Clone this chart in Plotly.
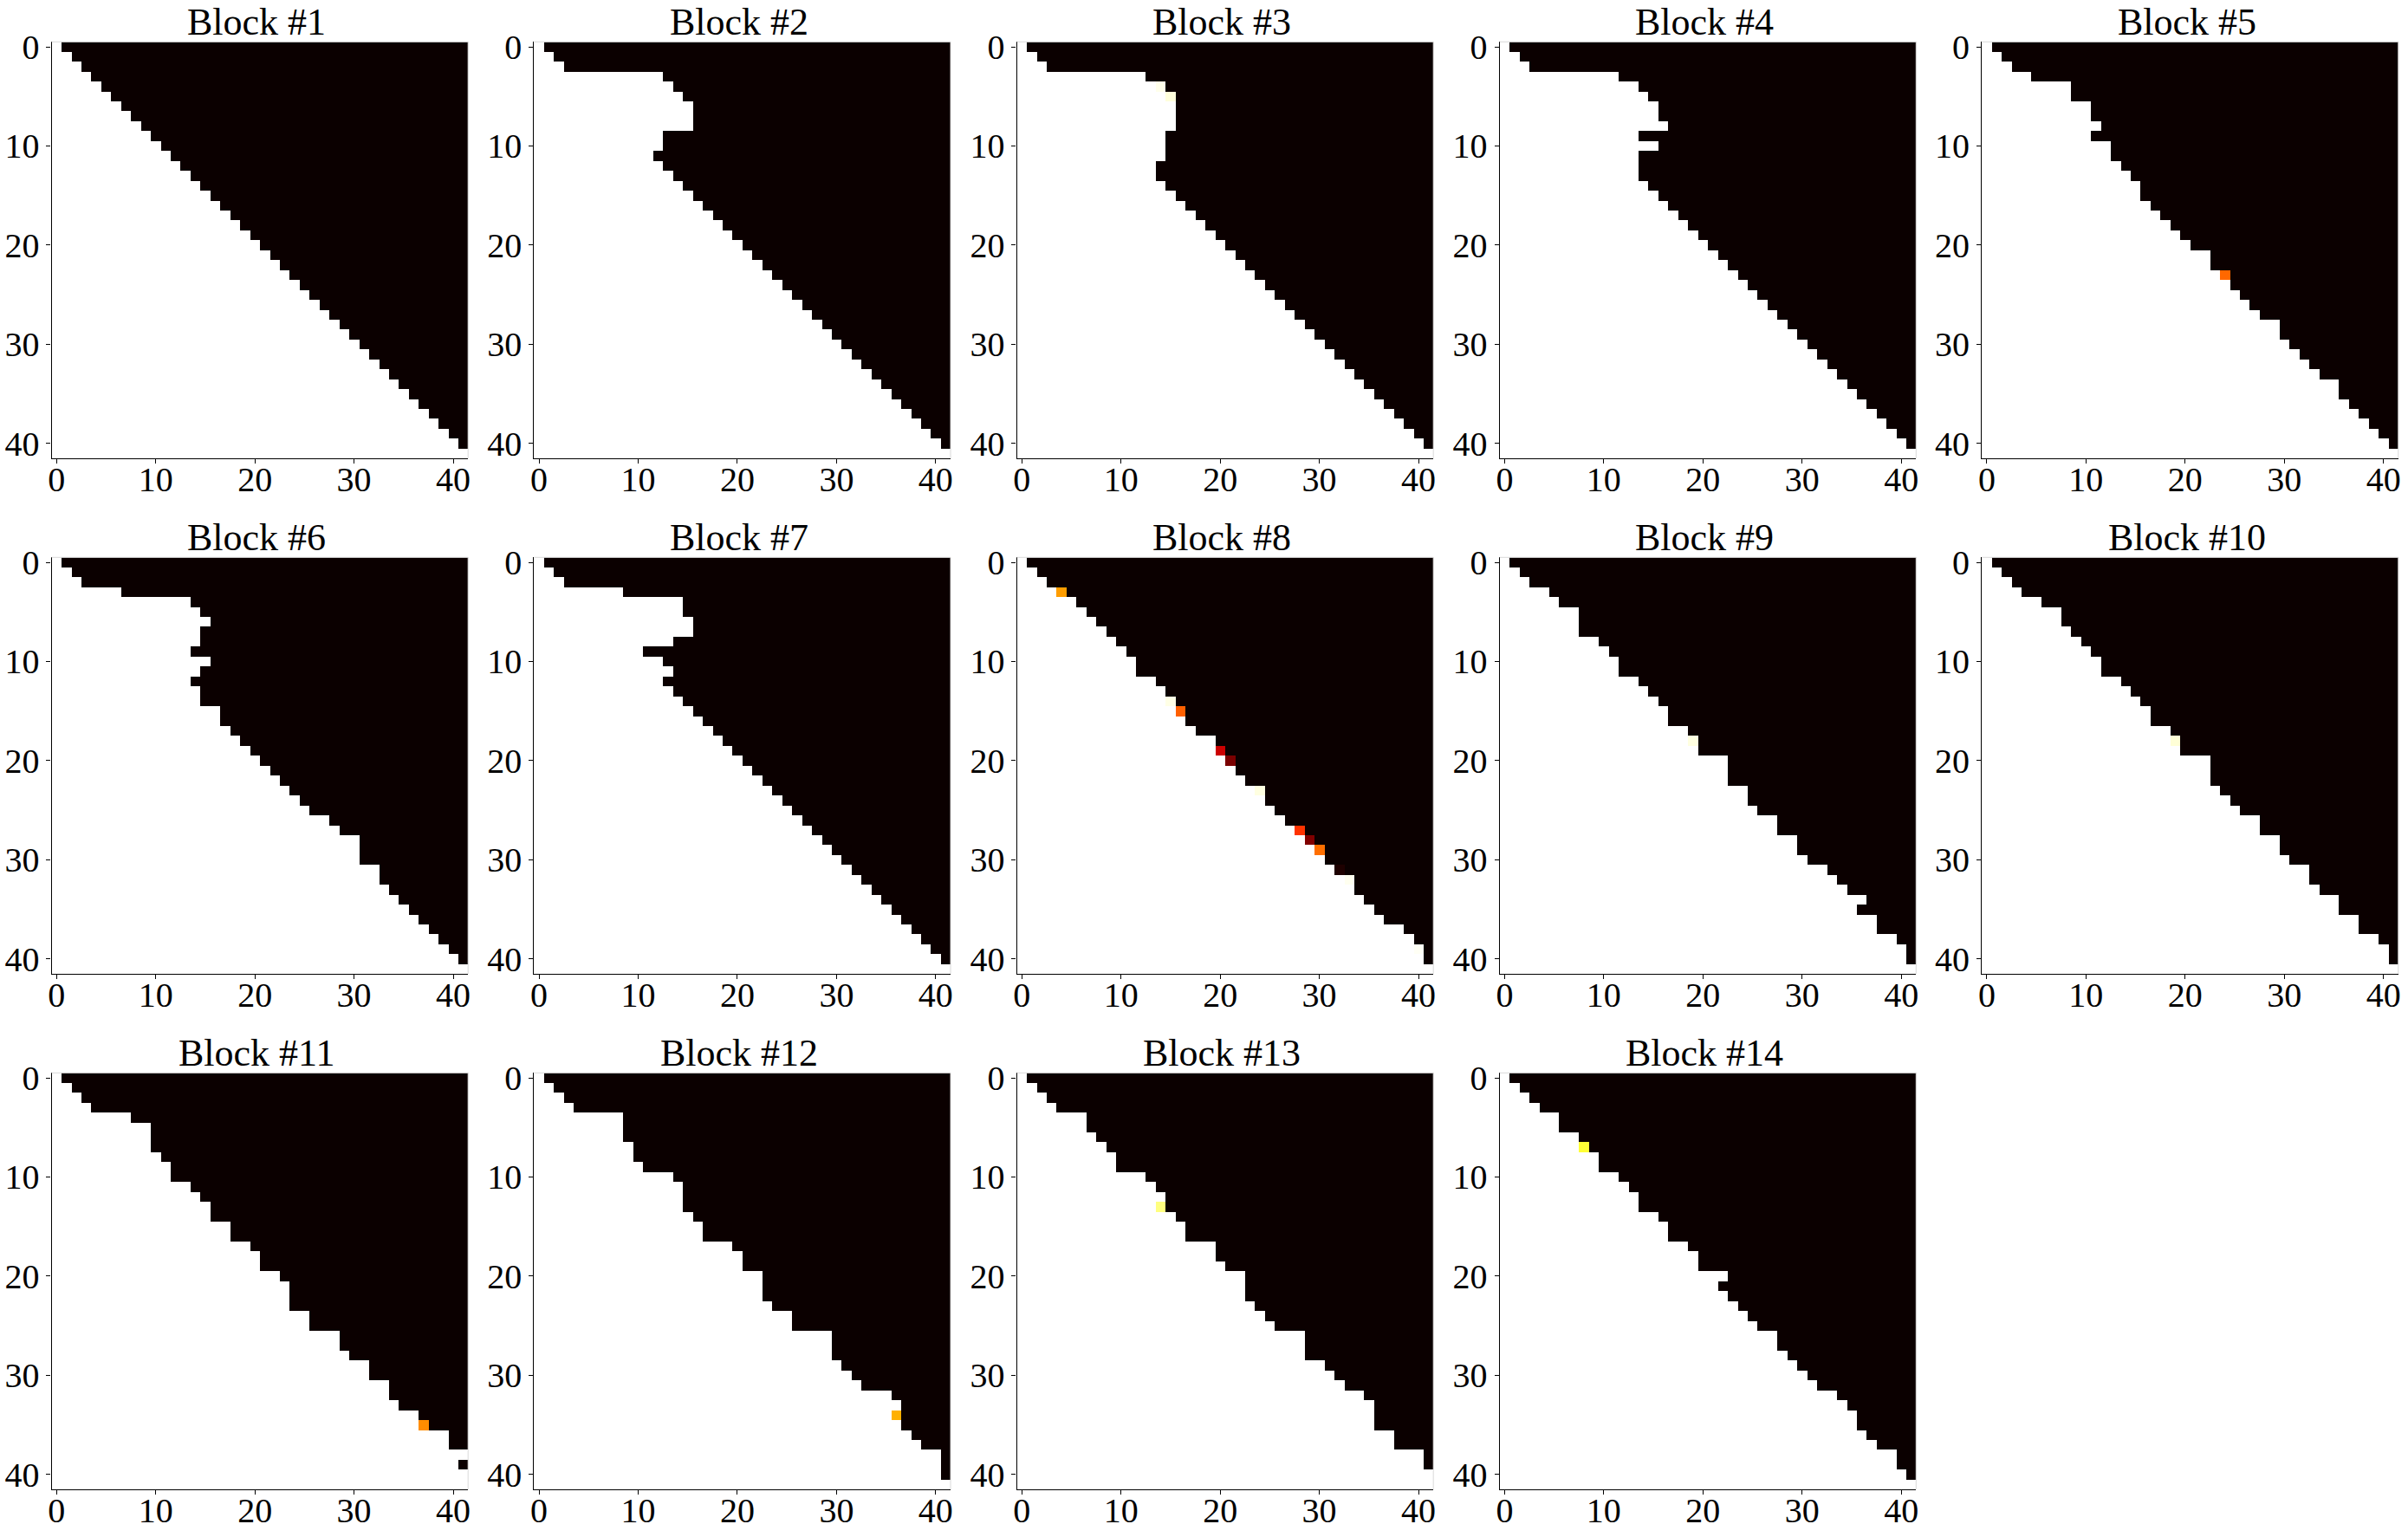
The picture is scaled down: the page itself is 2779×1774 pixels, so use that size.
import plotly.graph_objects as go

FONT = "Liberation Serif"
TICKS = [0, 10, 20, 30, 40]
N = 42
W, H = 2779, 1774

# first black column of every row, per block (columns left of it are white)
edge_01 = [1,2,3,4,5,6,7,8,9,10,11,12,13,14,15,16,17,18,19,20,21,22,23,24,25,26,27,28,29,30,31,32,33,34,35,36,37,38,39,40,41,42]
edge_02 = [1,2,3,13,14,15,16,16,16,13,13,12,13,14,15,16,17,18,19,20,21,22,23,24,25,26,27,28,29,30,31,32,33,34,35,36,37,38,39,40,41,42]
edge_03 = [1,2,3,13,15,16,16,16,16,15,15,15,14,14,15,16,17,18,19,20,21,22,23,24,25,26,27,28,29,30,31,32,33,34,35,36,37,38,39,40,41,42]
edge_04 = [1,2,3,12,14,15,16,16,17,14,16,14,14,14,15,16,17,18,19,20,21,22,23,24,25,26,27,28,29,30,31,32,33,34,35,36,37,38,39,40,41,42]
edge_05 = [1,2,3,5,9,9,11,11,12,11,13,13,14,15,16,16,17,18,19,20,21,23,23,25,25,26,27,28,30,30,31,32,33,34,36,36,37,38,39,40,41,42]
edge_06 = [1,2,3,7,14,15,16,15,15,14,16,15,14,15,15,17,17,18,19,20,21,22,23,24,25,26,28,29,31,31,31,33,33,34,35,36,37,38,39,40,41,42]
edge_07 = [1,2,3,9,15,15,16,16,14,11,13,14,13,14,15,16,17,18,19,20,21,22,23,24,25,26,27,28,29,30,31,32,33,34,35,36,37,38,39,40,41,42]
edge_08 = [1,2,3,5,6,7,8,9,10,11,12,12,14,15,16,17,17,18,20,21,22,22,23,25,25,26,27,29,30,31,31,33,34,34,35,36,37,39,40,41,41,42]
edge_09 = [1,2,3,5,6,8,8,8,10,11,12,12,14,15,16,17,17,19,20,20,23,23,23,25,25,26,28,28,30,30,31,33,34,35,37,36,38,38,40,41,41,42]
edge_10 = [1,2,3,4,6,8,8,9,10,11,12,12,14,15,16,17,17,19,20,20,23,23,23,24,25,26,28,28,30,30,31,33,33,34,36,36,38,38,40,41,41,42]
edge_11 = [1,2,3,4,8,10,10,10,11,12,12,14,15,16,16,18,18,20,21,21,23,24,24,24,26,26,29,29,30,32,32,34,34,35,37,38,40,40,42,41,42,42]
edge_12 = [1,2,3,4,9,9,9,10,10,11,14,15,15,15,16,17,17,20,21,21,23,23,23,24,26,26,30,30,30,31,32,33,36,37,37,37,38,39,41,41,41,42]
edge_13 = [1,2,3,4,7,7,8,9,10,10,13,14,15,15,16,17,17,20,20,21,23,23,23,24,25,26,29,29,29,31,32,33,35,36,36,36,38,38,41,41,42,42]
edge_14 = [1,2,3,4,6,6,8,9,10,10,12,13,14,14,16,17,17,19,20,20,23,22,23,24,25,26,28,28,29,30,31,32,34,35,36,36,37,38,40,40,41,42]
edges = [edge_01, edge_02, edge_03, edge_04, edge_05, edge_06, edge_07,
         edge_08, edge_09, edge_10, edge_11, edge_12, edge_13, edge_14]

# cells that are neither black nor white: (row, column, value)
cells_03 = [(4, 14, 0.98), (5, 15, 0.965)]
cells_05 = [(23, 24, 0.52)]
cells_08 = [(3, 4, 0.60), (14, 15, 0.975), (15, 16, 0.508), (19, 20, 0.289), (20, 21, 0.166),
            (23, 24, 0.97), (27, 28, 0.441), (28, 29, 0.175), (29, 30, 0.531), (31, 32, 0.029),
            (32, 33, 0.985), (39, 40, 0.99)]
cells_09 = [(18, 19, 0.97)]
cells_10 = [(18, 19, 0.96)]
cells_11 = [(35, 37, 0.575)]
cells_12 = [(34, 36, 0.628)]
cells_13 = [(13, 14, 0.873)]
cells_14 = [(7, 8, 0.80)]
special = {3: cells_03, 5: cells_05, 8: cells_08, 9: cells_09, 10: cells_10,
           11: cells_11, 12: cells_12, 13: cells_13, 14: cells_14}

# matplotlib "hot"
HOT = [[0, "rgb(11,0,0)"], [0.365079, "rgb(255,0,0)"], [0.746032, "rgb(255,255,0)"], [1, "rgb(255,255,255)"]]

# panel frame positions, in page pixels
COL_X = [59.6, 616.4, 1173.6, 1730.7, 2287.2]
ROW_Y = [48.3, 643.3, 1238.3]
SIDE = 480.6

fig = go.Figure()
layout = dict(width=W, height=H, autosize=False, margin=dict(l=0, r=0, t=0, b=0, pad=0),
              paper_bgcolor="white", plot_bgcolor="white", showlegend=False,
              font=dict(family=FONT, color="black"))
annotations, shapes = [], []

for i, edge in enumerate(edges):
    k = i + 1
    z = [[1.0 if c < edge[r] else 0.0 for c in range(N)] for r in range(N)]
    for r, c, v in special.get(k, []):
        z[r][c] = v
    suffix = "" if k == 1 else str(k)
    fig.add_trace(go.Heatmap(z=z, x=list(range(N)), y=list(range(N)), zmin=0, zmax=1, colorscale=HOT,
                             showscale=False, xaxis="x" + suffix, yaxis="y" + suffix, hoverinfo="skip"))
    px = COL_X[i % 5]
    py = ROW_Y[i // 5]
    common = dict(tickmode="array", tickvals=TICKS, ticktext=[str(t) for t in TICKS], automargin=False,
                  ticks="outside", ticklen=5, tickwidth=1.3, tickcolor="black",
                  showline=True, linecolor="black", linewidth=1.3, showgrid=False, zeroline=False,
                  tickfont=dict(family=FONT, size=40, color="black"))
    layout["xaxis" + suffix] = dict(domain=[px / W, (px + SIDE) / W], range=[-0.5, 41.5],
                                    anchor="y" + suffix, ticklabelstandoff=-16, **common)
    layout["yaxis" + suffix] = dict(domain=[1 - (py + SIDE) / H, 1 - py / H], range=[41.5, -0.5],
                                    anchor="x" + suffix, **common)
    annotations.append(dict(text=f"Block #{k}", xref="paper", yref="paper",
                            x=(px + SIDE / 2 - 4) / W, y=1 - (py + 4) / H, xanchor="center", yanchor="bottom",
                            showarrow=False, font=dict(family=FONT, size=44, color="black")))
    xd, yd = "x" + suffix + " domain", "y" + suffix + " domain"
    shapes.append(dict(type="line", xref=xd, yref=yd, x0=0, x1=1, y0=1, y1=1,
                       line=dict(color="#d9d9d9", width=1)))
    shapes.append(dict(type="line", xref=xd, yref=yd, x0=1, x1=1, y0=0, y1=1,
                       line=dict(color="#d9d9d9", width=1)))

layout["annotations"] = annotations
layout["shapes"] = shapes
fig.update_layout(**layout)
fig.write_html("out.html", post_script="document.body.style.margin='0';document.body.style.overflow='hidden';",
               config={"displayModeBar": False})
